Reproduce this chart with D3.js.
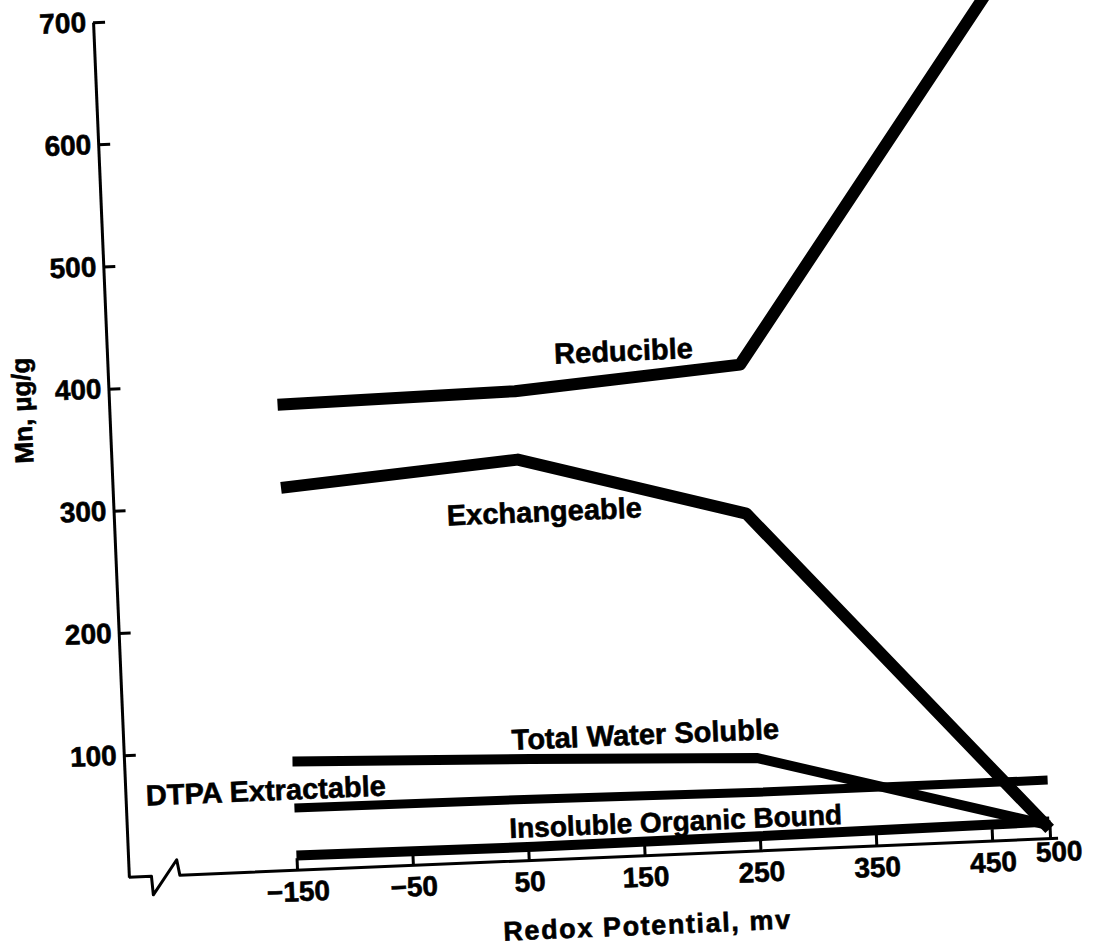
<!DOCTYPE html>
<html>
<head>
<meta charset="utf-8">
<script src="https://cdn.jsdelivr.net/npm/d3@7"></script>
<style>
  html, body { margin: 0; padding: 0; background: #fff; }
  svg { display: block; }
  text { font-family: "Liberation Sans", Arial, sans-serif; font-weight: bold; fill: #000; stroke: #000; stroke-width: 0.6px; }
</style>
</head>
<body>
<script>
// Mn fractions (µg/g) against redox potential (mv)
const redox = [-150, 55, 250, 500];
const reducible = [381, 384, 398, 725];
const exchangeable = [313, 328, 276, 8];
const totalWaterSoluble = [89, 83, 76, 11];
const dtpaExtractable = [51, 50, 48, 48];
const insolubleOrganicBound = [12, 11, 12, 14];

const seriesNames = ["Reducible", "Exchangeable", "Total Water Soluble", "DTPA Extractable", "Insoluble Organic Bound"];
const xTickValues = [-150, -50, 50, 150, 250, 350, 450, 500];
const yTickValues = [100, 200, 300, 400, 500, 600, 700];

const W = 1095, H = 948;
const svg = d3.select("body").append("svg").attr("width", W).attr("height", H);
svg.append("rect").attr("width", W).attr("height", H).attr("fill", "#fff");

// The whole plot frame sits slightly tilted on the page
const g = svg.append("g").attr("transform", "translate(129,880) rotate(-2.4)");

const x = d3.scaleLinear().domain([-150, 500]).range([168.3, 922]);
const y = d3.scaleLinear().domain([0, 700]).range([-2.7, -858.6]);

// y axis with inward ticks
const yAxis = g.append("g")
  .call(d3.axisLeft(y).tickValues(yTickValues).tickSizeInner(-12).tickSizeOuter(0).tickPadding(7));
yAxis.select(".domain").attr("stroke-width", 3);
yAxis.selectAll(".tick line").attr("stroke-width", 3);
yAxis.selectAll(".tick text").attr("font-size", 28).attr("font-family", null);

// x axis: ticks and labels, with a broken baseline drawn separately
const fmt = d => d < 0 ? "\u2212" + Math.abs(d) : String(d);
const xAxis = g.append("g").attr("transform", `translate(0,${y(0)})`)
  .call(d3.axisBottom(x).tickValues(xTickValues).tickFormat(fmt).tickSizeInner(-12).tickSizeOuter(0).tickPadding(11));
xAxis.select(".domain").remove();
xAxis.selectAll(".tick line").attr("stroke-width", 3);
xAxis.selectAll(".tick text").attr("font-size", 28).attr("font-family", null)
  .filter(d => d === 500).attr("dx", 8).attr("dy", "0.42em");

const y0 = y(0);
const axisPath = d3.path();
axisPath.moveTo(0, y0);
axisPath.lineTo(22.6, y0);
axisPath.lineTo(23.7, y0 + 18.5);
axisPath.lineTo(48.5, y0 - 15.5);
axisPath.lineTo(51, y0);
axisPath.lineTo(x(500) + 8, y0);
g.append("path").attr("d", axisPath.toString())
  .attr("fill", "none").attr("stroke", "#000").attr("stroke-width", 3).attr("stroke-linejoin", "round");

// data lines
const series = [reducible, exchangeable, totalWaterSoluble, dtpaExtractable, insolubleOrganicBound];
const widths = [12, 12, 10, 9, 10];
const line = d3.line().x(d => x(d[0])).y(d => y(d[1]));
series.forEach((vals, i) => {
  g.append("path")
    .datum(redox.map((r, j) => [r, vals[j]]))
    .attr("d", line)
    .attr("fill", "none")
    .attr("stroke", "#000")
    .attr("stroke-width", widths[i])
    .attr("stroke-linejoin", "round")
    .attr("stroke-linecap", "butt");
});

// series labels, anchored in data units
const labelAnchors = [[150, 405], [76, 276.5], [155, 91], [-174, 58], [178, 19]];
const labelSizes = [29, 29, 29, 29, 28];
seriesNames.forEach((name, i) => {
  g.append("text")
    .attr("x", x(labelAnchors[i][0]))
    .attr("y", y(labelAnchors[i][1]))
    .attr("text-anchor", "middle")
    .attr("font-size", labelSizes[i])
    .text(name);
});

// axis titles
g.append("text")
  .attr("x", x(150)).attr("y", y0 + 79)
  .attr("text-anchor", "middle")
  .attr("font-size", 27)
  .attr("letter-spacing", 1.6)
  .text("Redox Potential, mv");

g.append("text")
  .attr("transform", `translate(-78,${y(385)}) rotate(-90)`)
  .attr("text-anchor", "middle")
  .attr("font-size", 26)
  .text("Mn, \u00b5g/g");
</script>
</body>
</html>
